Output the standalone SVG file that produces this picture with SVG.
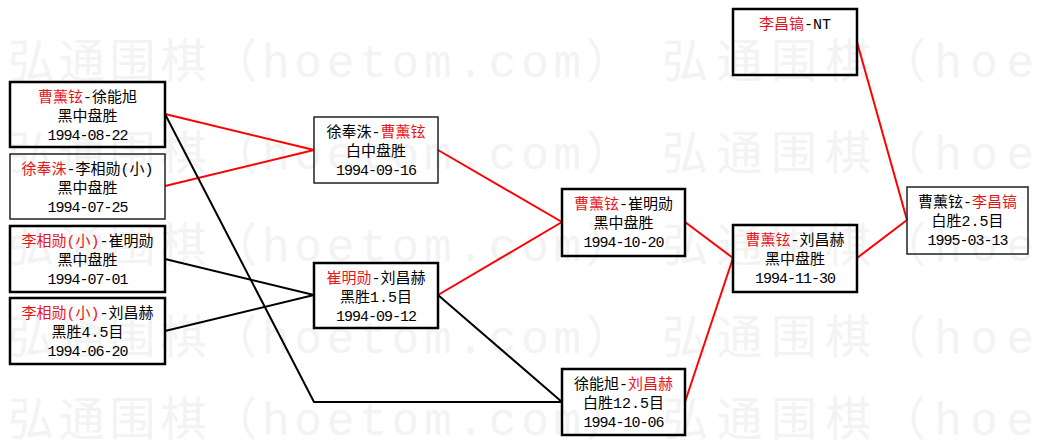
<svg xmlns="http://www.w3.org/2000/svg" width="1039" height="445" viewBox="0 0 1039 445">
<style>
.wm{font-family:"Liberation Mono","Noto Sans CJK SC",monospace;font-size:46px;fill:#f3f3f3}
.box{fill:none;stroke:#000;stroke-width:2.5}
.thin{fill:none;stroke:#222;stroke-width:1.5}
.t{font-family:"Liberation Mono","Noto Sans CJK SC",monospace;font-size:15px;fill:#000;text-anchor:middle}
.d{letter-spacing:-1px}
.r{fill:#e8141c}
.cr{fill:none;stroke:#ff0000;stroke-width:2}
.cb{fill:none;stroke:#000;stroke-width:2}
</style>
<rect width="1039" height="445" fill="#fff"/>
<g id="watermark">
<text class="wm" x="8" y="77" textLength="624" lengthAdjust="spacing">弘通围棋（hoetom.com）</text>
<text class="wm" x="662" y="77" textLength="372" lengthAdjust="spacing">弘通围棋（hoe</text>
<text class="wm" x="8" y="169" textLength="624" lengthAdjust="spacing">弘通围棋（hoetom.com）</text>
<text class="wm" x="662" y="169" textLength="372" lengthAdjust="spacing">弘通围棋（hoe</text>
<text class="wm" x="8" y="261" textLength="624" lengthAdjust="spacing">弘通围棋（hoetom.com）</text>
<text class="wm" x="662" y="261" textLength="372" lengthAdjust="spacing">弘通围棋（hoe</text>
<text class="wm" x="8" y="353" textLength="624" lengthAdjust="spacing">弘通围棋（hoetom.com）</text>
<text class="wm" x="662" y="353" textLength="372" lengthAdjust="spacing">弘通围棋（hoe</text>
<text class="wm" x="8" y="435" textLength="624" lengthAdjust="spacing">弘通围棋（hoetom.com）</text>
<text class="wm" x="662" y="435" textLength="372" lengthAdjust="spacing">弘通围棋（hoe</text>
</g>
<g id="connectors">
<polyline class="cr" points="165,114 314,150"/>
<polyline class="cr" points="165,186 314,150"/>
<polyline class="cb" points="165,114 314,402 562,402"/>
<polyline class="cb" points="165,259 314,295"/>
<polyline class="cb" points="165,331 314,295"/>
<polyline class="cr" points="438,150 562,222"/>
<polyline class="cr" points="438,295 562,222"/>
<polyline class="cb" points="438,295 562,402"/>
<polyline class="cr" points="685,222 733,258"/>
<polyline class="cr" points="685,402 733,258"/>
<polyline class="cr" points="857,258 907,220"/>
<polyline class="cr" points="857,42 907,220"/>
</g>
<g id="n1">
<rect class="box" x="10" y="82" width="155" height="65"/>
<text class="t" x="87.5" y="102"><tspan class="r">曹薰铉</tspan>-徐能旭</text>
<text class="t" x="87.5" y="121">黑中盘胜</text>
<text class="t d" x="87.5" y="140">1994-08-22</text>
</g>
<g id="n2">
<rect class="thin" x="10" y="154" width="155" height="65"/>
<text class="t" x="87.5" y="174"><tspan class="r">徐奉洙</tspan>-李相勋(小)</text>
<text class="t" x="87.5" y="193">黑中盘胜</text>
<text class="t d" x="87.5" y="212">1994-07-25</text>
</g>
<g id="n3">
<rect class="box" x="10" y="226" width="155" height="66"/>
<text class="t" x="87.5" y="246"><tspan class="r">李相勋(小)</tspan>-崔明勋</text>
<text class="t" x="87.5" y="265">黑中盘胜</text>
<text class="t d" x="87.5" y="284">1994-07-01</text>
</g>
<g id="n4">
<rect class="box" x="10" y="298" width="155" height="66"/>
<text class="t" x="87.5" y="318"><tspan class="r">李相勋(小)</tspan>-刘昌赫</text>
<text class="t" x="87.5" y="337">黑胜4.5目</text>
<text class="t d" x="87.5" y="356">1994-06-20</text>
</g>
<g id="n5">
<rect class="thin" x="314" y="117" width="124" height="66"/>
<text class="t" x="376" y="137">徐奉洙-<tspan class="r">曹薰铉</tspan></text>
<text class="t" x="376" y="156">白中盘胜</text>
<text class="t d" x="376" y="175">1994-09-16</text>
</g>
<g id="n6">
<rect class="box" x="314" y="263" width="124" height="65"/>
<text class="t" x="376" y="283"><tspan class="r">崔明勋</tspan>-刘昌赫</text>
<text class="t" x="376" y="302">黑胜1.5目</text>
<text class="t d" x="376" y="321">1994-09-12</text>
</g>
<g id="n7">
<rect class="box" x="562" y="189" width="123" height="67"/>
<text class="t" x="623.5" y="209"><tspan class="r">曹薰铉</tspan>-崔明勋</text>
<text class="t" x="623.5" y="228">黑中盘胜</text>
<text class="t d" x="623.5" y="247">1994-10-20</text>
</g>
<g id="n8">
<rect class="box" x="562" y="369" width="123" height="66"/>
<text class="t" x="623.5" y="389">徐能旭-<tspan class="r">刘昌赫</tspan></text>
<text class="t" x="623.5" y="408">白胜12.5目</text>
<text class="t d" x="623.5" y="427">1994-10-06</text>
</g>
<g id="n9">
<rect class="box" x="733" y="225" width="124" height="67"/>
<text class="t" x="795" y="245"><tspan class="r">曹薰铉</tspan>-刘昌赫</text>
<text class="t" x="795" y="264">黑中盘胜</text>
<text class="t d" x="795" y="283">1994-11-30</text>
</g>
<g id="n10">
<rect class="box" x="733" y="9" width="124" height="66"/>
<text class="t" x="795" y="29"><tspan class="r">李昌镐</tspan>-NT</text>
</g>
<g id="n11">
<rect class="thin" x="907" y="187" width="121" height="67"/>
<text class="t" x="967.5" y="207">曹薰铉-<tspan class="r">李昌镐</tspan></text>
<text class="t" x="967.5" y="226">白胜2.5目</text>
<text class="t d" x="967.5" y="245">1995-03-13</text>
</g>
</svg>
